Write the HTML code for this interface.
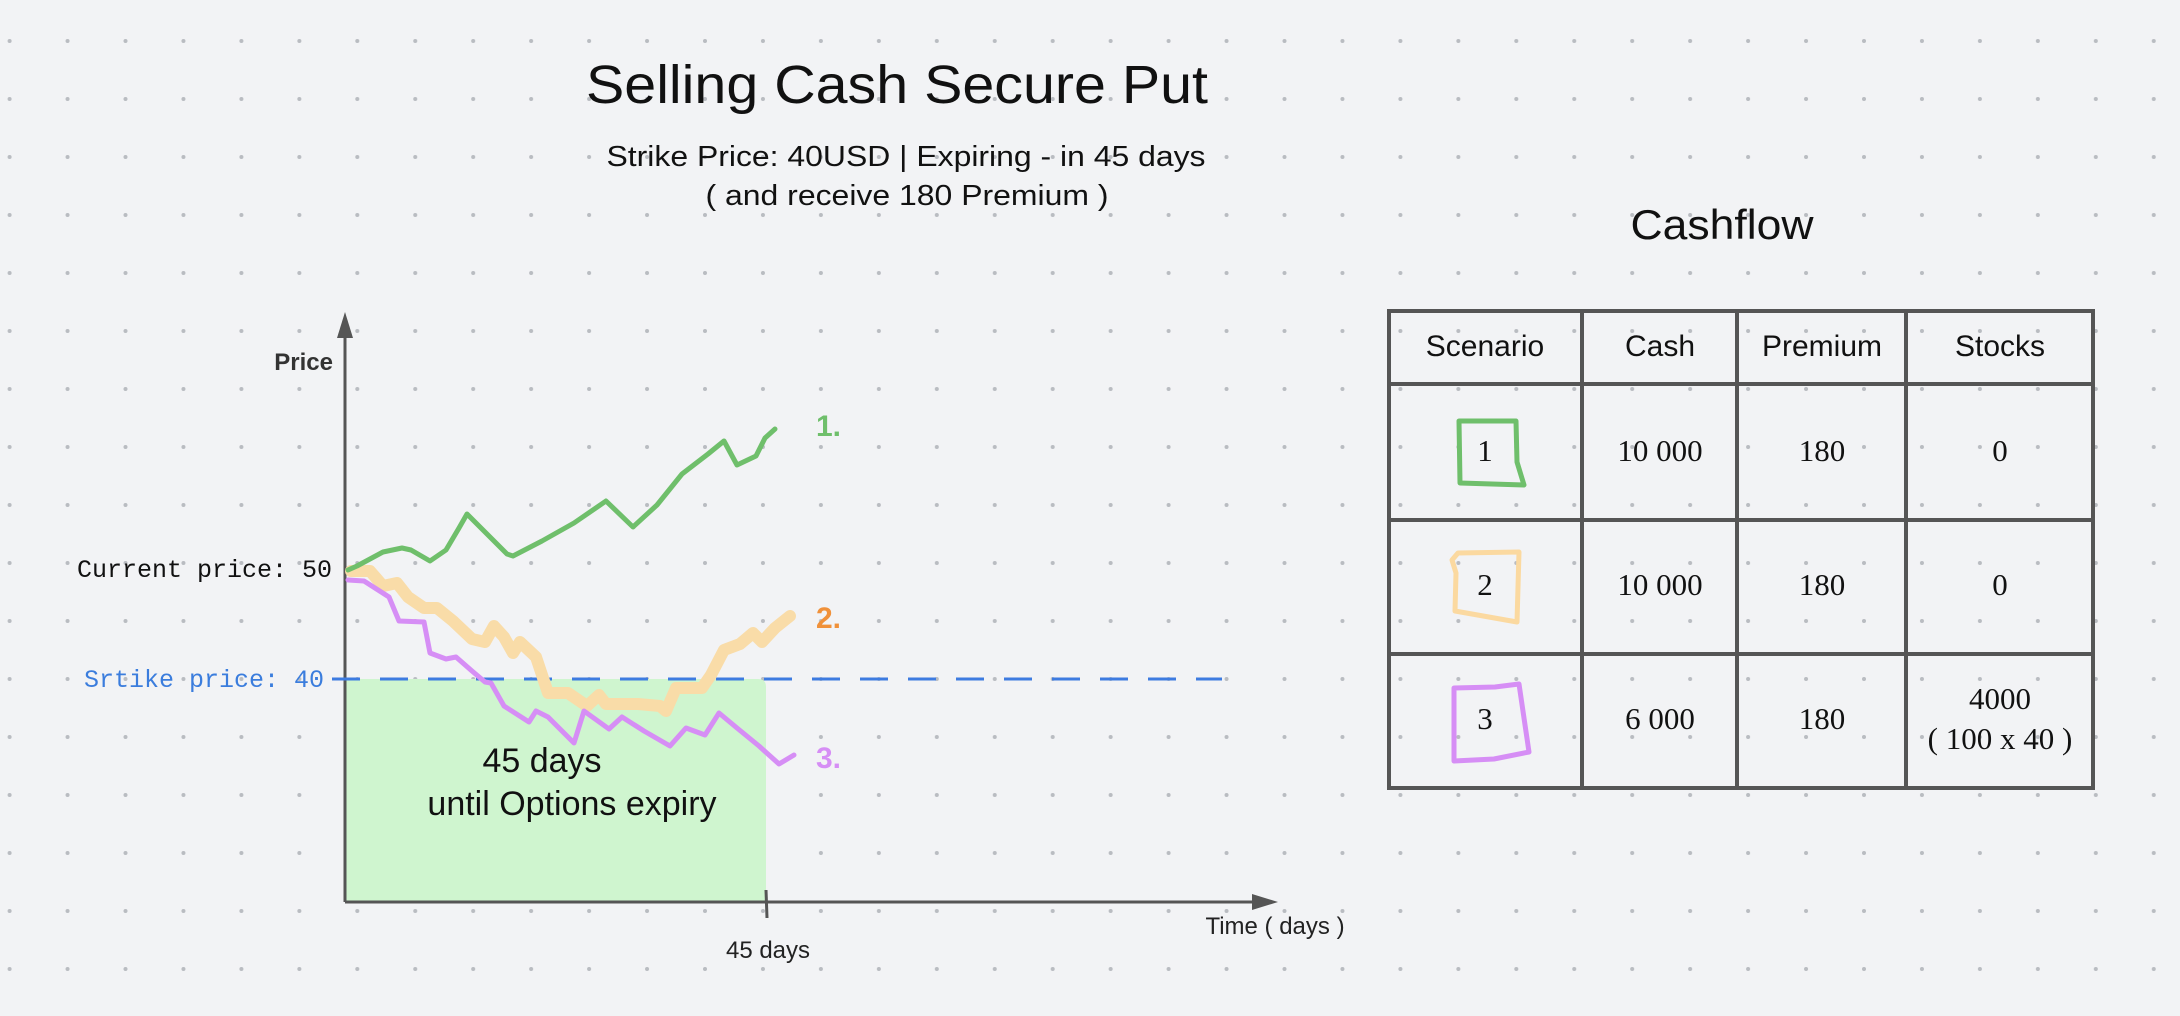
<!DOCTYPE html>
<html><head><meta charset="utf-8"><style>html,body{margin:0;padding:0;background:#f2f3f5;}svg{display:block}</style></head>
<body>
<svg xmlns="http://www.w3.org/2000/svg" width="2180" height="1016" viewBox="0 0 2180 1016">
<defs>
<pattern id="dots" x="9.6" y="41" width="57.95" height="58" patternUnits="userSpaceOnUse">
<circle cx="0" cy="0" r="2" fill="#b9bcc1"/><circle cx="57.95" cy="0" r="2" fill="#b9bcc1"/><circle cx="0" cy="58" r="2" fill="#b9bcc1"/><circle cx="57.95" cy="58" r="2" fill="#b9bcc1"/>
</pattern>
</defs>
<rect width="2180" height="1016" fill="#f2f3f5"/>
<rect width="2180" height="1016" fill="url(#dots)"/>

<g font-family="Liberation Sans, sans-serif" fill="#111" text-anchor="middle">
<text x="897" y="103" font-size="54" textLength="622" lengthAdjust="spacingAndGlyphs">Selling Cash Secure Put</text>
<text x="906" y="166" font-size="29" textLength="599" lengthAdjust="spacingAndGlyphs">Strike Price: 40USD | Expiring - in 45 days</text>
<text x="907" y="205" font-size="29" textLength="403" lengthAdjust="spacingAndGlyphs">( and receive 180 Premium )</text>
<text x="1722" y="239" font-size="42" textLength="183" lengthAdjust="spacingAndGlyphs">Cashflow</text>
</g>

<!-- green rect -->
<path d="M345 679 H758 Q766 679 766 687 V902 H345 Z" fill="#cff5cf"/>

<!-- axes -->
<g stroke="#555" stroke-width="3" fill="none">
<line x1="345" y1="332" x2="345" y2="902"/>
<line x1="345" y1="902" x2="1262" y2="902"/>
<line x1="766" y1="890" x2="767" y2="918"/>
</g>
<polygon points="345,312 337,338 353,338" fill="#555"/>
<polygon points="1278,902 1252,894 1252,910" fill="#555"/>

<!-- strike dashed line -->
<line x1="332" y1="679" x2="1222" y2="679" stroke="#3d7be0" stroke-width="3" stroke-dasharray="28,20"/>

<!-- series -->
<polyline fill="none" stroke="#f9dca8" stroke-width="12" stroke-linejoin="round" stroke-linecap="round" points="351,571 370,571 383,586 397,583 408,597 424,608 437,608 453,621 472,639 485,642 494,626 504,637 513,653 520,642 536,657 548,693 568,693 587,706 599,695 606,704 638,704 660,706 666,711 676,688 702,688 711,675 724,650 740,644 753,633 762,642 775,628 790,616"/>
<polyline fill="none" stroke="#6fbf6b" stroke-width="5" stroke-linejoin="round" stroke-linecap="round" points="348,570 357,566 383,552 402,548 411,550 430,561 446,550 459,528 467,514 485,532 507,554 513,556 542,541 574,523 606,501 633,527 657,505 682,474 708,454 724,441 737,465 756,456 765,438 775,429"/>
<polyline fill="none" stroke="#d68ef5" stroke-width="5" stroke-linejoin="round" stroke-linecap="round" points="348,580 364,581 389,597 399,621 424,622 430,653 446,659 456,657 472,671 485,682 491,683 504,706 529,722 536,711 548,717 574,743 584,711 609,729 622,717 644,731 670,746 686,728 705,735 719,713 737,728 759,746 779,764 794,755"/>

<!-- labels -->
<g font-family="Liberation Sans, sans-serif">
<text x="333" y="370" font-size="24" font-weight="bold" fill="#333" text-anchor="end">Price</text>
<text x="542" y="772" font-size="34" fill="#111" text-anchor="middle">45 days</text>
<text x="572" y="815" font-size="34" fill="#111" text-anchor="middle">until Options expiry</text>
<text x="768" y="958" font-size="24" fill="#222" text-anchor="middle">45 days</text>
<text x="1275" y="934" font-size="24" fill="#222" text-anchor="middle">Time ( days )</text>
<text x="816" y="436" font-size="30" font-weight="bold" fill="#6fbf6b">1.</text>
<text x="816" y="628" font-size="30" font-weight="bold" fill="#f0913a">2.</text>
<text x="816" y="768" font-size="30" font-weight="bold" fill="#d68ef5">3.</text>
</g>
<g font-family="Liberation Mono, monospace" font-size="25">
<text x="332" y="577" fill="#111" text-anchor="end">Current price: 50</text>
<text x="324" y="687" fill="#3b7ddd" text-anchor="end">Srtike price: 40</text>
</g>

<!-- table -->
<g stroke="#555" stroke-width="4" fill="none">
<rect x="1389" y="311" width="704" height="477"/>
<line x1="1389" y1="384" x2="2093" y2="384"/>
<line x1="1389" y1="520" x2="2093" y2="520"/>
<line x1="1389" y1="654" x2="2093" y2="654"/>
<line x1="1582" y1="311" x2="1582" y2="788"/>
<line x1="1737" y1="311" x2="1737" y2="788"/>
<line x1="1906" y1="311" x2="1906" y2="788"/>
</g>
<g font-family="Liberation Sans, sans-serif" font-size="30" fill="#111" text-anchor="middle">
<text x="1485" y="356">Scenario</text>
<text x="1660" y="356">Cash</text>
<text x="1822" y="356">Premium</text>
<text x="2000" y="356">Stocks</text>
</g>
<g font-family="Liberation Serif, serif" font-size="31" fill="#111" text-anchor="middle">
<text x="1485" y="461">1</text>
<text x="1660" y="461">10 000</text>
<text x="1822" y="461">180</text>
<text x="2000" y="461">0</text>
<text x="1485" y="595">2</text>
<text x="1660" y="595">10 000</text>
<text x="1822" y="595">180</text>
<text x="2000" y="595">0</text>
<text x="1485" y="729">3</text>
<text x="1660" y="729">6 000</text>
<text x="1822" y="729">180</text>
<text x="2000" y="709">4000</text>
<text x="2000" y="749">( 100 x 40 )</text>
</g>
<g fill="none" stroke-width="5" stroke-linejoin="round" stroke-linecap="round">
<path d="M1459 421 L1516 421 L1517 462 L1524 485 L1460 483 Z" stroke="#6fbf6b"/>
<path d="M1458 553 L1519 552 L1517 622 L1455 611 L1456 573 L1452 560 Z" stroke="#fbd9a0"/>
<path d="M1454 688 L1495 687 L1519 684 L1529 752 L1494 759 L1454 761 Z" stroke="#d68ef5"/>
</g>
</svg>
</body></html>
